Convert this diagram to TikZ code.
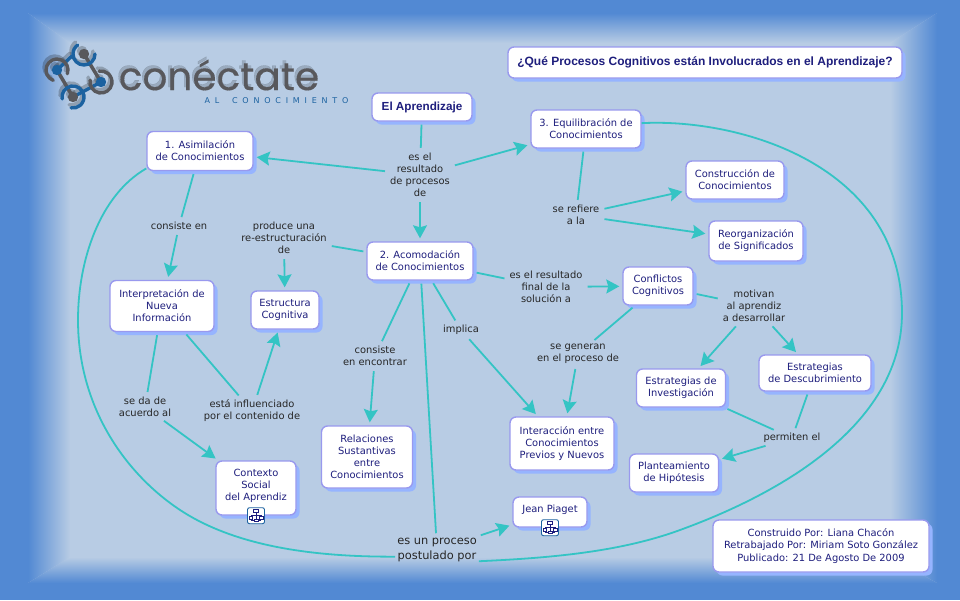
\documentclass[tikz,border=0pt]{standalone}
\usepackage{fontspec}
\usepackage{tikz}
\usetikzlibrary{arrows.meta,shadows}
\setmainfont{DejaVu Sans}
\newfontfamily\titlefont{Liberation Sans}
\newfontfamily\logofont[FakeBold=0.35]{Poppins}
\newfontfamily\lemafont[LetterSpace=60]{DejaVu Sans}
\definecolor{marco}{RGB}{82,137,211}
\definecolor{fondo}{RGB}{184,204,228}
\definecolor{enlace}{RGB}{52,196,196}
\definecolor{borde}{RGB}{153,153,238}
\definecolor{sombra}{RGB}{150,180,255}
\definecolor{tinta}{RGB}{30,30,125}
\definecolor{logoazul}{RGB}{28,98,160}
\definecolor{logogris}{RGB}{88,88,92}
\tikzset{
	concepto/.style={draw=borde,line width=1.4pt,fill=white,rounded corners=6pt,text=tinta,align=center,inner sep=0pt,
		font=\fontsize{9.9}{12.1}\selectfont,drop shadow={shadow xshift=3.5pt,shadow yshift=-3.5pt,fill=sombra,opacity=1}},
	frase/.style={text=black!85,align=center,inner sep=2pt,font=\fontsize{9.9}{12.1}\selectfont},
	enlaza/.style={draw=enlace,line width=1.8pt,shorten <=3pt,shorten >=3pt},
	flecha/.style={enlaza,-{Stealth[length=13pt,width=14pt,inset=2pt]}},
	curva/.style={draw=enlace,line width=1.8pt},
	cmapicon/.pic={
		\draw[logoazul,line width=0.9pt,fill=white,rounded corners=2pt] (-8.5,-8) rectangle (8.5,8);
		\draw[tinta,line width=0.6pt] (0,-3) -- (0,3) (-5,2) -- (-5,-0.5) -- (5,-0.5) -- (5,2) (-5,3) -- (-5,5) -- (0,5) -- (5,5);
		\draw[tinta,line width=0.7pt,fill=white] (-2.5,-6) rectangle (2.5,-3) (-7,1) rectangle (-3.5,3.5) (3.5,1) rectangle (7,3.5) (-2,3.5) rectangle (2,6);
	}
}
\newcommand{\logoanillos}[2]{
	\draw[#2,line width=3.4pt] (84,54) -- (101,82) (57,70) -- (73,97);
	\draw[#1,line width=3.4pt] (72,56) -- (57,70) (101,82) -- (73,97);
	\fill[#2] (84,54) circle (5.2) (73,97) circle (5.2);
	\fill[#1] (57,70) circle (5.2) (101,82) circle (5.2);
	\draw[#1,line width=3.4pt] (95,54) arc (0:235:11);
	\draw[#1,line width=3.4pt] (73,97) ++(170:11) arc (170:460:11);
	\draw[#2,line width=3.4pt] (57,70) ++(110:11) arc (110:380:11);
	\draw[#2,line width=3.4pt] (101,82) ++(190:11) arc (190:-100:11);
}
\begin{document}
\begin{tikzpicture}[x=1pt,y=-1pt]
	\useasboundingbox (0,0) rectangle (960,600);
	\fill[marco] (0,0) rectangle (960,600);
	\fill[fondo] (28,13) rectangle (937,583);
	\begin{scope}
		\clip (28,13) -- (937,13) -- (890,43) -- (70,43) -- cycle;
		\shade[top color=marco,bottom color=fondo] (0,13) rectangle (960,43);
	\end{scope}
	\begin{scope}
		\clip (28,583) -- (937,583) -- (890,557) -- (70,557) -- cycle;
		\shade[top color=fondo,bottom color=marco] (0,557) rectangle (960,583);
	\end{scope}
	\begin{scope}
		\clip (28,13) -- (70,43) -- (70,557) -- (28,583) -- cycle;
		\shade[left color=marco,right color=fondo] (28,0) rectangle (70,600);
	\end{scope}
	\begin{scope}
		\clip (937,13) -- (890,43) -- (890,557) -- (937,583) -- cycle;
		\shade[left color=fondo,right color=marco] (890,0) rectangle (937,600);
	\end{scope}
	% logo
	\begin{scope}[shift={(-2,-3)},opacity=0.22,line cap=round]
		\logoanillos{black}{black}
	\end{scope}
	\begin{scope}[line cap=round]
		\logoanillos{logoazul}{logogris}
	\end{scope}
	\node[text=black,opacity=0.16,font=\logofont\fontsize{39}{39}\selectfont] (logosombra) at (217,72) {conéctate};
	\node[text=logogris,font=\logofont\fontsize{39}{39}\selectfont] (logotexto) at (219,75) {conéctate};
	\node[text=logoazul,font=\lemafont\fontsize{8}{10}\selectfont] (logolema) at (276.5,101) {AL\hspace{1.6em}CONOCIMIENTO};
	% conceptos
	\node[concepto,minimum width=394pt,minimum height=31pt,font=\titlefont\bfseries\fontsize{12}{14}\selectfont] (pregunta) at (705,62.5) {¿Qué Procesos Cognitivos están Involucrados en el Aprendizaje?};
	\node[concepto,minimum width=100pt,minimum height=28pt,font=\titlefont\bfseries\fontsize{11.7}{14}\selectfont] (aprendizaje) at (422,107) {El Aprendizaje};
	\node[concepto,minimum width=106pt,minimum height=39pt] (asimilacion) at (200,151) {1. Asimilación\\de Conocimientos};
	\node[concepto,minimum width=106pt,minimum height=38pt] (acomodacion) at (420,261) {2. Acomodación\\de Conocimientos};
	\node[concepto,minimum width=110pt,minimum height=38pt] (equilibracion) at (586,129) {3. Equilibración de\\Conocimientos};
	\node[concepto,minimum width=98pt,minimum height=38pt] (construccion) at (735,180) {Construcción de\\Conocimientos};
	\node[concepto,minimum width=94pt,minimum height=40pt] (reorganizacion) at (756,241) {Reorganización\\de Significados};
	\node[concepto,minimum width=70pt,minimum height=38pt] (conflictos) at (658,286) {Conflictos\\Cognitivos};
	\node[concepto,minimum width=104pt,minimum height=51pt] (interpretacion) at (162,306) {Interpretación de\\Nueva\\Información};
	\node[concepto,minimum width=68pt,minimum height=38pt] (estructura) at (285,310) {Estructura\\Cognitiva};
	\node[concepto,minimum width=91pt,minimum height=62pt] (relaciones) at (367,457) {Relaciones\\Sustantivas\\entre\\Conocimientos};
	\node[concepto,minimum width=80pt,minimum height=54pt] (contexto) at (256,488) {Contexto\\Social\\del Aprendiz\\[-6pt]\mbox{}};
	\node[concepto,minimum width=104pt,minimum height=53pt] (interaccion) at (562,443.5) {Interacción entre\\Conocimientos\\Previos y Nuevos};
	\node[concepto,minimum width=74pt,minimum height=30pt] (piaget) at (550,512) {Jean Piaget\\[-6pt]\mbox{}};
	\node[concepto,minimum width=89pt,minimum height=38pt] (investigacion) at (681,388) {Estrategias de\\Investigación};
	\node[concepto,minimum width=112pt,minimum height=36pt] (descubrimiento) at (815,373) {Estrategias\\de Descubrimiento};
	\node[concepto,minimum width=89pt,minimum height=38pt] (hipotesis) at (674,473) {Planteamiento\\de Hipótesis};
	\node[concepto,minimum width=216pt,minimum height=52pt] (creditos) at (821,546) {Construido Por: Liana Chacón\\Retrabajado Por: Miriam Soto González\\Publicado: 21 De Agosto De 2009};
	\pic at (contexto.south) {cmapicon};
	\pic at (piaget.south) {cmapicon};
	% frases de enlace
	\node[frase] (procesos) at (420,175) {es el\\resultado\\de procesos\\de};
	\node[frase] (consiste) at (179,226) {consiste en};
	\node[frase] (produce) at (284,238) {produce una\\re-estructuración\\de};
	\node[frase] (refiere) at (576,215) {se refiere\\a la};
	\node[frase] (solucion) at (546,287) {es el resultado\\final de la\\solución a};
	\node[frase] (motivan) at (754,306) {motivan\\al aprendiz\\a desarrollar};
	\node[frase] (implica) at (461,330) {implica};
	\node[frase] (encontrar) at (375,356) {consiste\\en encontrar};
	\node[frase] (acuerdo) at (145,407) {se da de\\acuerdo al};
	\node[frase] (influenciado) at (252,411) {está influenciado\\por el contenido de};
	\node[frase] (generan) at (578,354) {se generan\\en el proceso de};
	\node[frase] (permiten) at (792,438) {permiten el};
	\node[frase,font=\fontsize{11.4}{14.4}\selectfont] (postulado) at (437,550) {es un proceso\\postulado por};
	% conexiones
	\draw[enlaza] (aprendizaje) -- (procesos);
	\draw[flecha] (procesos) -- (asimilacion);
	\draw[flecha] (procesos) -- (equilibracion);
	\draw[flecha] (procesos) -- (acomodacion);
	\draw[enlaza] (asimilacion) -- (consiste);
	\draw[flecha] (consiste) -- (interpretacion);
	\draw[enlaza] (interpretacion) -- (acuerdo);
	\draw[flecha] (acuerdo) -- (contexto);
	\draw[enlaza] (interpretacion) -- (influenciado);
	\draw[flecha] (influenciado) -- (estructura);
	\draw[enlaza] (acomodacion) -- (produce);
	\draw[flecha] (produce) -- (estructura);
	\draw[enlaza] (acomodacion) -- (encontrar);
	\draw[flecha] (encontrar) -- (relaciones);
	\draw[enlaza] (acomodacion) -- (implica);
	\draw[flecha] (implica) -- (interaccion);
	\draw[enlaza] (acomodacion) -- (postulado);
	\draw[flecha] (postulado) -- (piaget);
	\draw[enlaza] (acomodacion) -- (solucion);
	\draw[flecha] (solucion) -- (conflictos);
	\draw[enlaza] (conflictos) -- (generan);
	\draw[flecha] (generan) -- (interaccion);
	\draw[enlaza] (conflictos) -- (motivan);
	\draw[flecha] (motivan) -- (investigacion);
	\draw[flecha] (motivan) -- (descubrimiento);
	\draw[enlaza] (equilibracion) -- (refiere);
	\draw[flecha] (refiere) -- (construccion);
	\draw[flecha] (refiere) -- (reorganizacion);
	\draw[enlaza] (investigacion) -- (permiten);
	\draw[enlaza] (descubrimiento) -- (permiten);
	\draw[flecha] (permiten) -- (hipotesis);
	\draw[curva] (asimilacion.198) .. controls (100,195) and (78,260) .. (78,320) .. controls (78,420) and (140,490) .. (197,520) .. controls (250,548) and (320,557) .. (postulado.189);
	\draw[curva] (equilibracion.6) .. controls (740,118) and (902,165) .. (902,313) .. controls (902,420) and (790,490) .. (680,530) .. controls (620,552) and (550,558) .. (postulado.-15);
\end{tikzpicture}
\end{document}
